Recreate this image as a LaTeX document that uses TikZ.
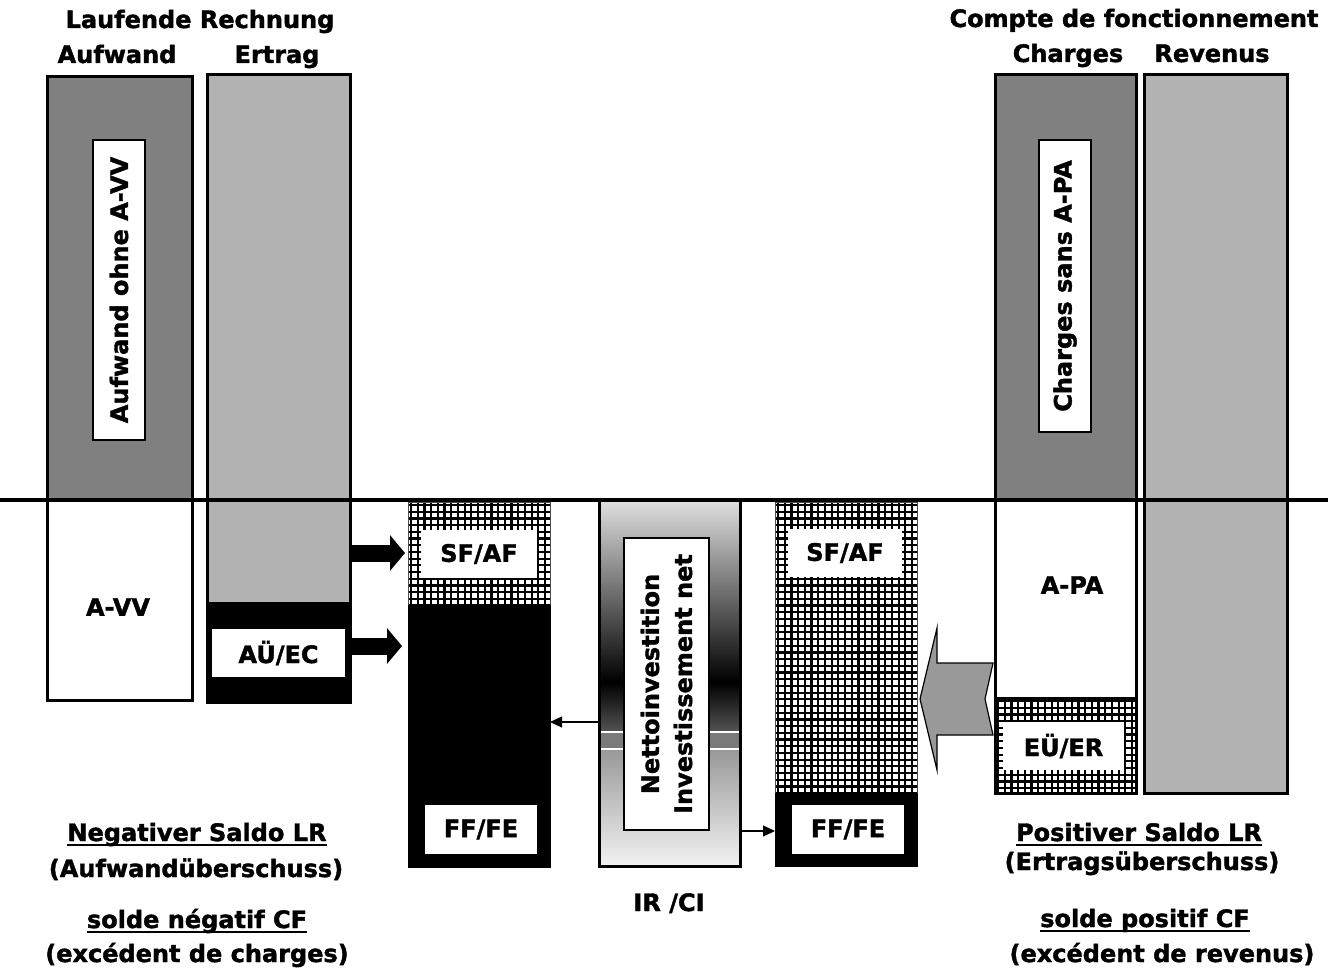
\documentclass[tikz,border=0pt]{standalone}
\usepackage{fontspec}
\setmainfont{DejaVu Sans}[BoldFeatures={FakeBold=1.6}]
\usetikzlibrary{arrows.meta,fit,calc}

\newcommand\ulbox[1]{\setbox0\hbox{#1}\rlap{\rule[-2.4pt]{\wd0}{1.1pt}}\box0}
% Gitterraster in ein Rechteck (x1,y1,x2,y2)
\newcommand\gitter[4]{%
  \begin{scope}
    \clip (#1,#2) rectangle (#3,#4);
    \foreach \k in {0,...,22} \draw[line width=1.1pt] ({#1+3+\k*6.7},#2) -- ({#1+3+\k*6.7},#4);
    \foreach \k in {0,...,45} \draw[line width=1.1pt] (#1,{#2+3+\k*6.7}) -- (#3,{#2+3+\k*6.7});
  \end{scope}}

\tikzset{
  bar/.style={draw=black, line width=1.5pt, inner sep=0pt, outer sep=0pt},
  darkbar/.style={bar, fill=black!50},
  lightbar/.style={bar, fill=black!30},
  whitebar/.style={bar, fill=white},
  blackcol/.style={draw=black, fill=black, line width=0.5pt, inner sep=0pt, outer sep=0pt},
  hatchcol/.style={draw=black!70, line width=0.5pt, inner sep=0pt, outer sep=0pt},
  tagbox/.style={fill=white, inner sep=0pt, outer sep=0pt},
  framebox/.style={tagbox, draw=black, line width=0.6pt},
  lbl/.style={inner sep=0pt},
  blockarrow/.style={line width=8.5pt, -{Triangle[length=7.5pt,width=17.5pt]}},
  thinarrow/.style={line width=0.6pt, -{Triangle[length=6pt,width=5.5pt]}},
  grayarrow/.style={fill=black!40, draw=black, line width=0.6pt, line join=miter}
}

\begin{document}
\begin{tikzpicture}[x=0.5pt, y=-0.5pt, font=\fontsize{12}{16}\selectfont\bfseries]
\useasboundingbox (0,0) rectangle (1342,968);

% Laufende Rechnung
\node[darkbar, fit={(47,77) (192,500)}] (auf) {};
\node[whitebar, fit={(47,500) (192,700)}] (avv) {};
\node[lightbar, fit={(207,75) (350,603)}] (ert) {};
\node[blackcol, line width=1.5pt, fit={(207,603) (350,702)}] (aec) {};
\node[framebox, fit={(93,140) (145,440)}] (auflbl) {};
\node[lbl, rotate=90] at (auflbl) {Aufwand ohne A-VV};
\node[lbl] at (118,607) {A-VV};
\node[tagbox, fit={(212,629) (345,677)}] (aectag) {};
\node[lbl] at (aectag) {AÜ/EC};

% SF/AF und FF/FE links
\gitter{408}{502}{550}{605}
\node[hatchcol, fit={(408,502) (550,605)}] (sfl) {};
\node[blackcol, fit={(408,605) (550,867)}] (ffl) {};
\node[tagbox, fit={(421,530) (537,578)}] (sfltag) {};
\node[lbl] at (sfltag) {SF/AF};
\node[tagbox, fit={(425,805) (537,854)}] (ffltag) {};
\node[lbl] at (ffltag) {FF/FE};

% Nettoinvestition
\shade[top color=black!12, bottom color=black] (599,500) rectangle (740,682);
\shade[top color=black, bottom color=black!68] (599,682) rectangle (740,731);
\fill[white] (599,731) rectangle (740,733);
\fill[black!52] (599,733) rectangle (740,748);
\fill[white] (599,748) rectangle (740,750);
\shade[top color=black!40, bottom color=black!5] (599,750) rectangle (740,866);
\node[bar, fit={(599,500) (740,866)}] (ni) {};
\node[framebox, line width=0.8pt, fit={(624,538) (709,830)}] (nilbl) {};
\node[lbl, rotate=90, align=center, font=\fontsize{12}{16.5}\selectfont\bfseries] at (nilbl) {Nettoinvestition\\Investissement net};
\node[lbl, anchor=base] (ir) at (669,911) {IR /CI};

% SF/AF und FF/FE rechts
\gitter{775}{502}{917}{793}
\node[hatchcol, fit={(775,502) (917,793)}] (sfr) {};
\node[blackcol, fit={(775,793) (917,866)}] (ffr) {};
\node[tagbox, fit={(788,529) (902,577)}] (sfrtag) {};
\node[lbl] at (sfrtag) {SF/AF};
\node[tagbox, fit={(792,805) (904,854)}] (ffrtag) {};
\node[lbl] at (ffrtag) {FF/FE};

% Compte de fonctionnement
\node[darkbar, fit={(995,75) (1136,500)}] (cha) {};
\node[whitebar, fit={(995,500) (1136,698)}] (apa) {};
\gitter{995}{698}{1136}{793}
\node[bar, fit={(995,698) (1136,793)}] (eer) {};
\node[lightbar, fit={(1144,75) (1287,793)}] (rev) {};
\node[framebox, fit={(1039,140) (1091,432)}] (chalbl) {};
\node[lbl, rotate=90] at (chalbl) {Charges sans A-PA};
\node[lbl] at (1072,585) {A-PA};
\node[tagbox, fit={(1003,722) (1124,770)}] (eertag) {};
\node[lbl] at (eertag) {EÜ/ER};

% Linie
\draw[line width=2pt] (0,500) -- (1328,500);

% Pfeile
\coordinate (a1) at (0,553);
\coordinate (a2) at (0,646);
\coordinate (a3) at (0,722);
\coordinate (a4) at (0,831);
\draw[blockarrow, shorten >=1.5pt] (ert.east |- a1) -- (sfl.west |- a1);
\draw[blockarrow, shorten >=3pt] (aec.east |- a2) -- (ffl.west |- a2);
\draw[thinarrow] (ni.west |- a3) -- (ffl.east |- a3);
\draw[thinarrow] (ni.east |- a4) -- (ffr.west |- a4);
\draw[grayarrow] ($(sfr.east |- apa.south)+(3,1)$) -- ++(17,-71) -- ++(0,35)
  -- ($(apa.south west)+(-2,-35)$) -- ++(-8,36) -- ++(8,36) -- ++(-56,0) -- ++(0,35) -- cycle;

% Titel
\node[lbl, anchor=base] at (200,28) {Laufende Rechnung};
\node[lbl, anchor=base] at (117,63) {Aufwand};
\node[lbl, anchor=base] at (277,63) {Ertrag};
\node[lbl, anchor=base] at (1134,27) {Compte de fonctionnement};
\node[lbl, anchor=base] at (1068,62) {Charges};
\node[lbl, anchor=base] at (1212,62) {Revenus};

% Saldo
\node[lbl, anchor=base] at (197,841) {\ulbox{Negativer Saldo LR}};
\node[lbl, anchor=base] at (196,877) {(Aufwandüberschuss)};
\node[lbl, anchor=base] at (197,928) {\ulbox{solde négatif CF}};
\node[lbl, anchor=base] at (197,962) {(excédent de charges)};
\node[lbl, anchor=base] at (1139,841) {\ulbox{Positiver Saldo LR}};
\node[lbl, anchor=base] at (1142,870) {(Ertragsüberschuss)};
\node[lbl, anchor=base] at (1145,927) {\ulbox{solde positif CF}};
\node[lbl, anchor=base] at (1162,962) {(excédent de revenus)};
\end{tikzpicture}
\end{document}
